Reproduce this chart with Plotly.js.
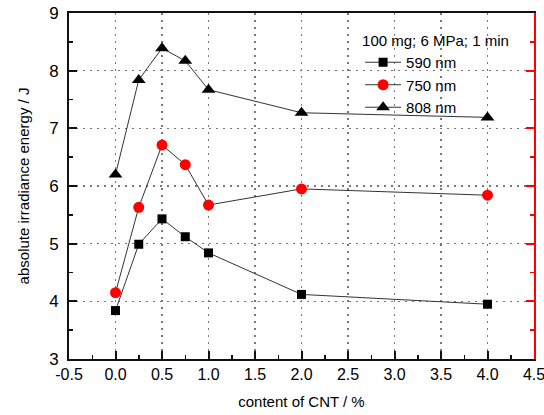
<!DOCTYPE html>
<html>
<head>
<meta charset="utf-8">
<script src="https://cdn.plot.ly/plotly-3.0.1.min.js"></script>
<style>html,body{margin:0;padding:0;background:#fff;}#chart{width:544px;height:415px;}</style>
</head>
<body>
<div id="chart"></div>
<script>
const cntContent = [0, 0.25, 0.5, 0.75, 1.0, 2.0, 4.0];
const energy590 = [3.84, 4.99, 5.43, 5.12, 4.84, 4.12, 3.95];
const energy750 = [4.15, 5.63, 6.71, 6.37, 5.67, 5.95, 5.84];
const energy808 = [6.20, 7.84, 8.39, 8.17, 7.67, 7.27, 7.19];
const seriesNames = ['590 nm', '750 nm', '808 nm'];
const xTickVals = [-0.5, 0, 0.5, 1.0, 1.5, 2.0, 2.5, 3.0, 3.5, 4.0, 4.5];
const xTickText = ['-0.5', '0.0', '0.5', '1.0', '1.5', '2.0', '2.5', '3.0', '3.5', '4.0', '4.5'];
const legendTitle = '100 mg; 6 MPa; 1 min';
const xTitle = 'content of CNT / %';
const yTitle = 'absolute irradiance energy / J';

const FONT = 'Liberation Sans, Arial, sans-serif';
const lineStyle = {color: '#333', width: 1};

const traces = [
  {x: cntContent, y: energy590, name: seriesNames[0], mode: 'lines+markers',
   line: lineStyle, marker: {symbol: 'square', size: 9, color: '#000'}},
  {x: cntContent, y: energy750, name: seriesNames[1], mode: 'lines+markers',
   line: lineStyle, marker: {symbol: 'circle', size: 11, color: '#ff0000'}},
  {x: cntContent, y: energy808, name: seriesNames[2], mode: 'lines+markers',
   line: lineStyle, marker: {symbol: 'triangle-up', size: 12, color: '#000'}},
  {x: [], y: [], yaxis: 'y2', showlegend: false, hoverinfo: 'skip', mode: 'markers'}
];

const tickFont = {family: FONT, size: 16, color: '#000'};
const layout = {
  width: 544, height: 415,
  margin: {l: 69, r: 10, t: 13, b: 56},
  paper_bgcolor: '#fff', plot_bgcolor: '#fff',
  font: {family: FONT, color: '#000'},
  showlegend: true,
  legend: {
    x: 0.626, y: 0.961, xanchor: 'left', yanchor: 'top',
    bgcolor: 'rgba(0,0,0,0)', borderwidth: 0,
    font: {family: FONT, size: 15, color: '#000'},
    title: {text: legendTitle, font: {family: FONT, size: 15, color: '#000'}},
    itemwidth: 36, tracegroupgap: 0
  },
  xaxis: {
    range: [-0.5, 4.5], tickmode: 'array', tickvals: xTickVals, ticktext: xTickText,
    ticklabeloverflow: 'allow',
    showline: true, linecolor: '#111', linewidth: 2, mirror: true,
    ticks: 'inside', ticklen: 8, tickwidth: 2, tickcolor: '#111',
    minor: {dtick: 0.25, tick0: 0, ticks: 'inside', ticklen: 4, tickwidth: 1.5, tickcolor: '#111', showgrid: false},
    showgrid: true, gridcolor: '#777', griddash: '2px,5px', gridwidth: 1.5,
    zeroline: false, tickfont: tickFont,
    title: {text: xTitle, font: {family: FONT, size: 15, color: '#000'}, standoff: 14}
  },
  yaxis: {
    range: [3, 9], dtick: 1, tick0: 3,
    showline: true, linecolor: '#111', linewidth: 2, mirror: false,
    ticks: 'inside', ticklen: 8, tickwidth: 2, tickcolor: '#111',
    minor: {dtick: 0.5, tick0: 3, ticks: 'inside', ticklen: 4, tickwidth: 1.5, tickcolor: '#111', showgrid: false},
    showgrid: true, gridcolor: '#777', griddash: '2px,5px', gridwidth: 1.5,
    zeroline: false, tickfont: {family: FONT, size: 17, color: '#000'},
    ticklabelstandoff: 5,
    title: {text: yTitle, font: {family: FONT, size: 15, color: '#000'}, standoff: 16}
  },
  yaxis2: {
    overlaying: 'y', side: 'right', range: [3, 9], dtick: 1, tick0: 3,
    showline: true, linecolor: '#ff0000', linewidth: 2,
    ticks: 'inside', ticklen: 8, tickwidth: 2, tickcolor: '#ff0000',
    minor: {dtick: 0.5, tick0: 3, ticks: 'inside', ticklen: 4, tickwidth: 1.5, tickcolor: '#ff0000', showgrid: false},
    showticklabels: false, showgrid: false, zeroline: false
  }
};

Plotly.newPlot('chart', traces, layout, {displayModeBar: false, staticPlot: true});
</script>
</body>
</html>
